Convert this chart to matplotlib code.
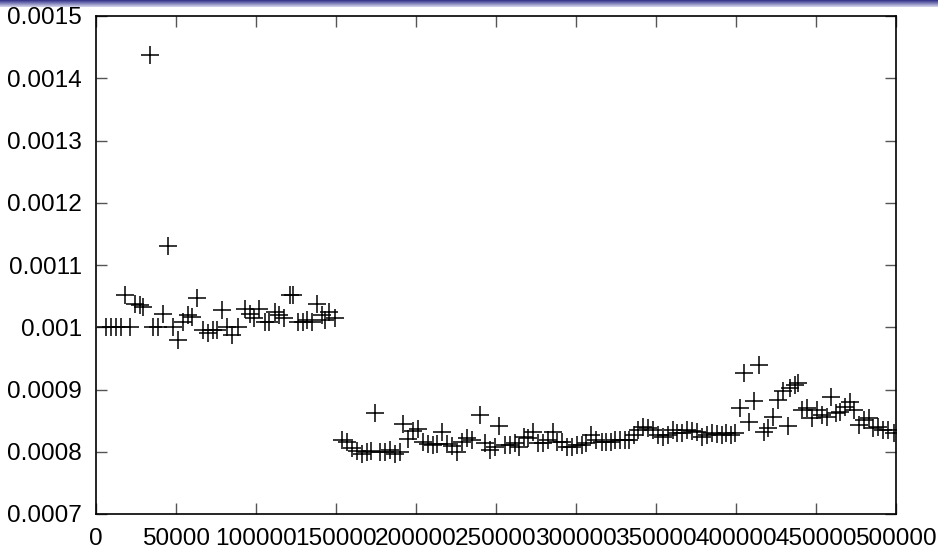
import numpy as np
import matplotlib
matplotlib.use("Agg")
import matplotlib.pyplot as plt
from matplotlib.ticker import FuncFormatter

# first block of measurements (x up to ~150000)
x1 = [6000, 9200, 12300, 15400, 18100, 21250, 24400, 27500, 29600, 33800,
      35800, 38900, 42100, 45200, 48300, 51400, 54600, 57700, 59800, 62900,
      67100, 70200, 73300, 75400, 78600, 81700, 84800, 88900, 93100, 96300,
      98900, 102100, 105600, 108300, 111900, 114600, 117500, 121300, 123300, 126400,
      129200, 131700, 134800, 138300, 141100, 143100, 145800, 149400]
y1 = [0.001000, 0.001000, 0.001000, 0.001000, 0.001052, 0.001000, 0.001038, 0.001036, 0.001033, 0.001437,
      0.001000, 0.001000, 0.001022, 0.001130, 0.001000, 0.000980, 0.001009, 0.001020, 0.001017, 0.001047,
      0.000996, 0.000990, 0.000996, 0.000996, 0.001027, 0.001001, 0.000988, 0.001001, 0.001030, 0.001021,
      0.001015, 0.001030, 0.001009, 0.001009, 0.001025, 0.001020, 0.001015, 0.001052, 0.001052, 0.001009,
      0.001009, 0.001012, 0.001009, 0.001037, 0.001020, 0.001012, 0.001025, 0.001015]

# second block (x from ~150000 to 500000)
x2 = [153600, 156700, 159800, 162900, 166100, 169200, 171700, 174400, 177500, 180600,
      183800, 186900, 190000, 192100, 195200, 198300, 201400, 204600, 207700, 210800,
      213300, 216100, 219200, 222300, 225400, 228600, 231700, 234800, 240000, 243100,
      246300, 249400, 252100, 255600, 258800, 261900, 264600, 267500, 270200, 273300,
      276400, 279600, 282700, 285400, 288300, 291100, 294200, 297300, 300400, 303600,
      306300, 309200, 312500, 316100, 318800, 321700, 324400, 327500, 330600, 333300,
      336300, 338900, 342100, 345200, 348300, 351400, 354600, 357700, 360400, 363300,
      366400, 369200, 372300, 375400, 378600, 381700, 384800, 387900, 391100, 393800,
      396700, 399400, 402500, 405000, 408300, 411400, 414600, 417500, 420200, 423300,
      426400, 429200, 432700, 433800, 436900, 438900, 441100, 444200, 447300, 450400,
      453600, 456700, 459200, 462500, 465000, 468100, 471300, 473900, 477100, 480000,
      483100, 485800, 488900, 492100, 495200, 498800]
y2 = [0.000819, 0.000815, 0.000806, 0.000801, 0.000797, 0.000800, 0.000801, 0.000862, 0.000799, 0.000800,
      0.000803, 0.000796, 0.000800, 0.000845, 0.000821, 0.000833, 0.000837, 0.000815, 0.000812, 0.000811,
      0.000812, 0.000831, 0.000812, 0.000810, 0.000799, 0.000815, 0.000822, 0.000819, 0.000859, 0.000814,
      0.000803, 0.000808, 0.000841, 0.000811, 0.000811, 0.000814, 0.000808, 0.000824, 0.000822, 0.000832,
      0.000814, 0.000814, 0.000819, 0.000832, 0.000816, 0.000816, 0.000808, 0.000808, 0.000811, 0.000811,
      0.000814, 0.000827, 0.000819, 0.000816, 0.000816, 0.000816, 0.000819, 0.000819, 0.000819, 0.000819,
      0.000827, 0.000835, 0.000840, 0.000838, 0.000835, 0.000827, 0.000824, 0.000827, 0.000835, 0.000830,
      0.000830, 0.000835, 0.000833, 0.000831, 0.000824, 0.000827, 0.000830, 0.000829, 0.000827, 0.000830,
      0.000827, 0.000830, 0.000870, 0.000926, 0.000847, 0.000882, 0.000939, 0.000832, 0.000838, 0.000856,
      0.000883, 0.000897, 0.000841, 0.000902, 0.000907, 0.000910, 0.000867, 0.000870, 0.000854, 0.000867,
      0.000859, 0.000856, 0.000888, 0.000862, 0.000864, 0.000872, 0.000880, 0.000867, 0.000843, 0.000851,
      0.000854, 0.000838, 0.000840, 0.000835, 0.000835, 0.000830]

x = x1 + x2
y = y1 + y2

plt.rcParams['font.family'] = ['Liberation Sans', 'DejaVu Sans']

fig = plt.figure(figsize=(9.38, 5.52), dpi=100)

# slide header strip at the top
bar = fig.add_axes([0, 1 - 7 / 552, 1, 7 / 552])
grad = np.linspace(0, 1, 50).reshape(-1, 1)
bar.imshow(grad, aspect="auto", cmap=matplotlib.colors.LinearSegmentedColormap.from_list(
    "hdr", ["#2e2e86", "#d8d8f0"]), extent=[0, 1, 0, 1])
bar.set_axis_off()

ax = fig.add_axes([96 / 938, 38 / 552, 800 / 938, 498 / 552])
ax.plot(x, y, "+", color="black", markersize=13, markeredgewidth=1.1)

ax.set_xlim(0, 500000)
ax.set_ylim(0.0007, 0.0015)
ax.set_xticks(np.arange(0, 500001, 50000))
ax.set_yticks(np.arange(0.0007, 0.00151, 0.0001))
ax.xaxis.set_major_formatter(FuncFormatter(lambda v, p: "%g" % round(v)))
ax.yaxis.set_major_formatter(FuncFormatter(lambda v, p: "%g" % round(v, 5)))
ax.tick_params(direction="in", length=8, width=1, color="#555555",
               top=True, right=True, labelsize=17.6, pad=10)
for s in ax.spines.values():
    s.set_linewidth(1.2)

fig.savefig("out.png", dpi=100)
